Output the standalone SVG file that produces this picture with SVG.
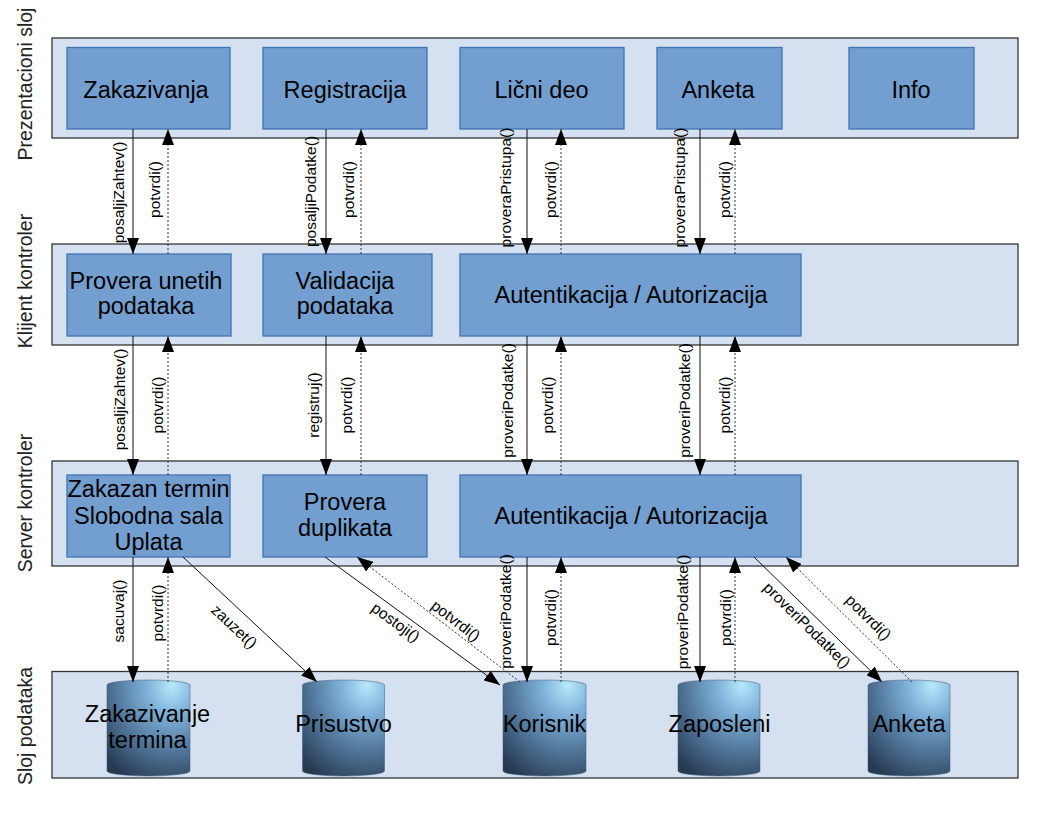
<svg xmlns="http://www.w3.org/2000/svg" width="1056" height="816" viewBox="0 0 1056 816">
<style>
.band{fill:#d5e1f0;stroke:#333;stroke-width:1.3}
.node{fill:#729fcf;stroke:#3f74b5;stroke-width:1.3}
.nt{font-family:"Liberation Sans",Arial,sans-serif;font-size:23.5px;fill:#000;text-anchor:middle}
.ll{font-family:"Liberation Sans",Arial,sans-serif;font-size:19.5px;fill:#222;text-anchor:middle}
.lb{font-family:"Liberation Sans",Arial,sans-serif;font-size:15.5px;fill:#000;text-anchor:middle}
.s{stroke:#111;stroke-width:1;fill:none;marker-end:url(#ah)}
.d{stroke:#333;stroke-width:1;stroke-dasharray:2 2;fill:none;marker-end:url(#ah)}
.cyl{fill:url(#cg);stroke:#3a5570;stroke-width:0.5}
</style>
<defs>
<marker id="ah" markerUnits="userSpaceOnUse" markerWidth="16" markerHeight="12" viewBox="0 0 16 12" refX="16" refY="6" orient="auto">
<path d="M0,0 L16,6 L0,12 z" fill="#000"/>
</marker>
<radialGradient id="cg" cx="0.78" cy="0.06" r="1.1" fx="0.78" fy="0.06">
<stop offset="0" stop-color="#b6e8fc"/>
<stop offset="0.28" stop-color="#7eb0d8"/>
<stop offset="0.6" stop-color="#547a9e"/>
<stop offset="1" stop-color="#263a52"/>
</radialGradient>
</defs>
<rect width="1056" height="816" fill="#fff"/>

<g id="layer-prezentacioni">
<rect class="band" x="52" y="38" width="966" height="100"/>
<text class="ll" transform="translate(31.5,84) rotate(-90)">Prezentacioni sloj</text>
</g>
<g id="layer-klijent">
<rect class="band" x="52" y="244" width="966" height="101"/>
<text class="ll" transform="translate(31.5,281) rotate(-90)">Klijent kontroler</text>
</g>
<g id="layer-server">
<rect class="band" x="52" y="461" width="966" height="105"/>
<text class="ll" transform="translate(31.5,503) rotate(-90)">Server kontroler</text>
</g>
<g id="layer-podaci">
<rect class="band" x="52" y="671.5" width="966" height="106.5"/>
<text class="ll" transform="translate(31.5,726) rotate(-90)">Sloj podataka</text>
</g>

<g id="n-zakazivanja"><rect class="node" x="67" y="47.5" width="163" height="81.5"/><text class="nt" x="146" y="98">Zakazivanja</text></g>
<g id="n-registracija"><rect class="node" x="263" y="47.5" width="164" height="81.5"/><text class="nt" x="345" y="98">Registracija</text></g>
<g id="n-licni"><rect class="node" x="460" y="47.5" width="164" height="81.5"/><text class="nt" x="541.5" y="98">Lični deo</text></g>
<g id="n-anketa"><rect class="node" x="657" y="47.5" width="125" height="81.5"/><text class="nt" x="718" y="98">Anketa</text></g>
<g id="n-info"><rect class="node" x="849" y="47.5" width="125" height="81.5"/><text class="nt" x="911" y="98">Info</text></g>

<g id="n-provera-unetih"><rect class="node" x="67" y="254" width="164" height="82"/><text class="nt" x="146" y="289">Provera unetih</text><text class="nt" x="146" y="314">podataka</text></g>
<g id="n-validacija"><rect class="node" x="263" y="254" width="169" height="82"/><text class="nt" x="345" y="289">Validacija</text><text class="nt" x="345" y="314">podataka</text></g>
<g id="n-auth-klijent"><rect class="node" x="460" y="254" width="341" height="82"/><text class="nt" x="631" y="303">Autentikacija / Autorizacija</text></g>

<g id="n-zakazan"><rect class="node" x="67" y="475" width="163" height="82"/><text class="nt" x="148.5" y="497">Zakazan termin</text><text class="nt" x="148.5" y="524">Slobodna sala</text><text class="nt" x="148.5" y="550">Uplata</text></g>
<g id="n-duplikata"><rect class="node" x="263" y="475" width="164" height="82"/><text class="nt" x="345" y="510">Provera</text><text class="nt" x="345" y="536">duplikata</text></g>
<g id="n-auth-server"><rect class="node" x="460" y="475" width="341" height="82"/><text class="nt" x="631" y="524">Autentikacija / Autorizacija</text></g>

<g id="db-zakazivanje"><path class="cyl" d="M107,685 A41.5,5 0 0 1 190,685 L190,771 A41.5,5 0 0 1 107,771 Z"/><text class="nt" x="147.5" y="722">Zakazivanje</text><text class="nt" x="147.5" y="748">termina</text></g>
<g id="db-prisustvo"><path class="cyl" d="M302.5,685 A41,5 0 0 1 384.5,685 L384.5,771 A41,5 0 0 1 302.5,771 Z"/><text class="nt" x="343.5" y="732">Prisustvo</text></g>
<g id="db-korisnik"><path class="cyl" d="M503,685 A41.5,5 0 0 1 586,685 L586,771 A41.5,5 0 0 1 503,771 Z"/><text class="nt" x="544.5" y="732">Korisnik</text></g>
<g id="db-zaposleni"><path class="cyl" d="M678,685 A41,5 0 0 1 760,685 L760,771 A41,5 0 0 1 678,771 Z"/><text class="nt" x="719.5" y="732">Zaposleni</text></g>
<g id="db-anketa"><path class="cyl" d="M868,685 A41,5 0 0 1 950,685 L950,771 A41,5 0 0 1 868,771 Z"/><text class="nt" x="909" y="732">Anketa</text></g>

<g id="connectors">
<line class="s" x1="133" y1="129" x2="133" y2="254"/>
<line class="d" x1="168" y1="254" x2="168" y2="129"/>
<line class="s" x1="326" y1="129" x2="326" y2="254"/>
<line class="d" x1="361" y1="254" x2="361" y2="129"/>
<line class="s" x1="527" y1="129" x2="527" y2="254"/>
<line class="d" x1="561" y1="254" x2="561" y2="129"/>
<line class="s" x1="700" y1="129" x2="700" y2="254"/>
<line class="d" x1="735" y1="254" x2="735" y2="129"/>

<line class="s" x1="133" y1="336" x2="133" y2="475"/>
<line class="d" x1="168" y1="475" x2="168" y2="336"/>
<line class="s" x1="326" y1="336" x2="326" y2="475"/>
<line class="d" x1="361" y1="475" x2="361" y2="336"/>
<line class="s" x1="527" y1="336" x2="527" y2="475"/>
<line class="d" x1="561" y1="475" x2="561" y2="336"/>
<line class="s" x1="700" y1="336" x2="700" y2="475"/>
<line class="d" x1="735" y1="475" x2="735" y2="336"/>

<line class="s" x1="133" y1="557" x2="133" y2="682"/>
<line class="d" x1="168" y1="682" x2="168" y2="557"/>
<line class="s" x1="183" y1="557" x2="317" y2="682"/>
<line class="s" x1="325" y1="557" x2="500" y2="685"/>
<line class="d" x1="520" y1="682" x2="357" y2="557"/>
<line class="s" x1="527" y1="557" x2="527" y2="682"/>
<line class="d" x1="561" y1="682" x2="561" y2="557"/>
<line class="s" x1="700" y1="557" x2="700" y2="682"/>
<line class="d" x1="735" y1="682" x2="735" y2="557"/>
<line class="s" x1="754" y1="557" x2="882" y2="682"/>
<line class="d" x1="912" y1="682" x2="786" y2="557"/>

<g id="labels">
<text class="lb" transform="translate(123.5,192.5) rotate(-90)">posaljiZahtev()</text>
<text class="lb" transform="translate(160,189.5) rotate(-90)">potvrdi()</text>
<text class="lb" transform="translate(316,191.5) rotate(-90)">posaljiPodatke()</text>
<text class="lb" transform="translate(354,189.5) rotate(-90)">potvrdi()</text>
<text class="lb" transform="translate(511,187.5) rotate(-90)">proveraPristupa()</text>
<text class="lb" transform="translate(556,189.5) rotate(-90)">potvrdi()</text>
<text class="lb" transform="translate(684.5,187.5) rotate(-90)">proveraPristupa()</text>
<text class="lb" transform="translate(729.5,189.5) rotate(-90)">potvrdi()</text>

<text class="lb" transform="translate(124.5,399.5) rotate(-90)">posaljiZahtev()</text>
<text class="lb" transform="translate(162.5,405) rotate(-90)">potvrdi()</text>
<text class="lb" transform="translate(318.5,405) rotate(-90)">registruj()</text>
<text class="lb" transform="translate(351.5,405) rotate(-90)">potvrdi()</text>
<text class="lb" transform="translate(513,400.5) rotate(-90)">proveriPodatke()</text>
<text class="lb" transform="translate(552.5,405) rotate(-90)">potvrdi()</text>
<text class="lb" transform="translate(690,400.5) rotate(-90)">proveriPodatke()</text>
<text class="lb" transform="translate(729.5,405) rotate(-90)">potvrdi()</text>

<text class="lb" transform="translate(124,611) rotate(-90)">sacuvaj()</text>
<text class="lb" transform="translate(163,613) rotate(-90)">potvrdi()</text>
<text class="lb" transform="translate(511,611.5) rotate(-90)">proveriPodatke()</text>
<text class="lb" transform="translate(556,617.5) rotate(-90)">potvrdi()</text>
<text class="lb" transform="translate(687.5,612) rotate(-90)">proveriPodatke()</text>
<text class="lb" transform="translate(731,617.5) rotate(-90)">potvrdi()</text>

<text class="lb" transform="translate(230.6,630.4) rotate(43.5)">zauzet()</text>
<text class="lb" transform="translate(392.6,626.5) rotate(36)">postoji()</text>
<text class="lb" transform="translate(452.6,624.9) rotate(37.4)">potvrdi()</text>
<text class="lb" transform="translate(803.2,628.9) rotate(44.5)">proveriPodatke()</text>
<text class="lb" transform="translate(864.7,621.1) rotate(44.8)">potvrdi()</text>
</g>
</g>
</svg>
